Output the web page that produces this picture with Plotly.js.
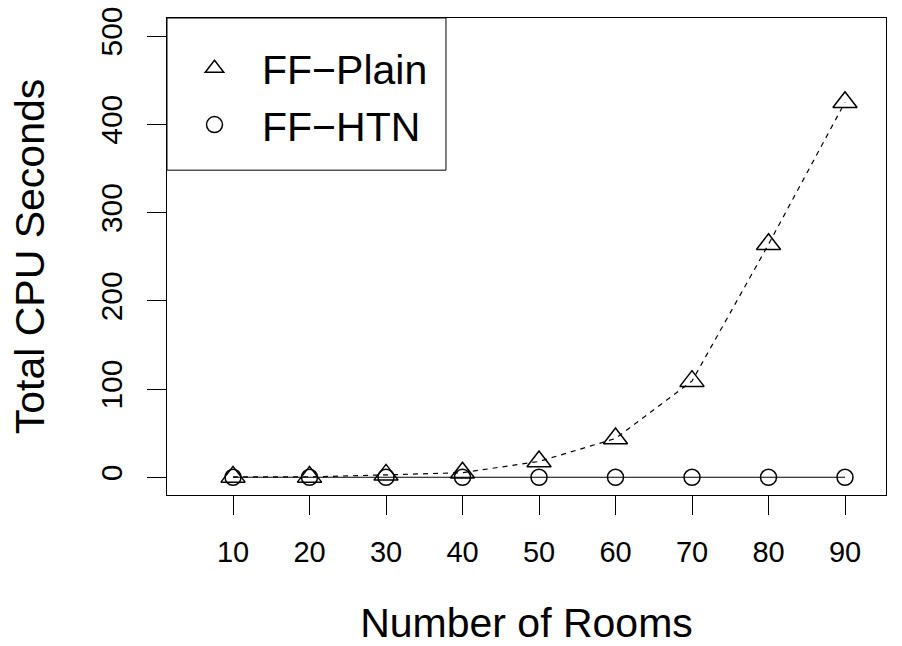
<!DOCTYPE html>
<html>
<head>
<meta charset="utf-8">
<script src="https://cdn.plot.ly/plotly-3.0.1.min.js"></script>
<style>html,body{margin:0;padding:0;background:#fff;}#chart{width:902px;height:646px;}</style>
</head>
<body>
<div id="chart"></div>
<script>
var rooms = [10, 20, 30, 40, 50, 60, 70, 80, 90];
var ffPlain = [0.5, 0.5, 2.8, 5.3, 18, 44, 109, 264, 425];
var ffHTN = [0.1, 0.1, 0.1, 0.1, 0.1, 0.1, 0.1, 0.1, 0.1];
var seriesNames = ["FF\u2212Plain", "FF\u2212HTN"];
var xTicks = [10, 20, 30, 40, 50, 60, 70, 80, 90];
var yTicks = [0, 100, 200, 300, 400, 500];
var xTitle = "Number of Rooms";
var yTitle = "Total CPU Seconds";

var FONT = "Liberation Sans, Arial, Helvetica, sans-serif";

var traces = [
  {x: rooms, y: ffPlain, mode: "lines", line: {color: "#000", width: 1.2, dash: "5px,5px"}, showlegend: false, hoverinfo: "skip"},
  {x: rooms, y: ffHTN, mode: "lines", line: {color: "#000", width: 1.2}, showlegend: false, hoverinfo: "skip"},
  {x: rooms, y: ffPlain, mode: "markers", name: seriesNames[0],
   marker: {symbol: "triangle-up-open", size: 21, color: "#000", line: {width: 1.5, color: "#000"}}},
  {x: rooms, y: ffHTN, mode: "markers", name: seriesNames[1],
   marker: {symbol: "circle-open", size: 16, color: "#000", line: {width: 1.5, color: "#000"}}}
];

var layout = {
  width: 902, height: 646,
  margin: {l: 167, r: 16, t: 18, b: 151},
  paper_bgcolor: "#fff", plot_bgcolor: "#fff",
  font: {family: FONT, color: "#000"},
  showlegend: true,
  legend: {x: 0.0, y: 0.964, xanchor: "left", yanchor: "top", bgcolor: "rgba(0,0,0,0)", borderwidth: 0,
           font: {size: 41, family: FONT, color: "#000"}, itemwidth: 85, tracegroupgap: 0},
  xaxis: {range: [1.37, 95.36], tickvals: xTicks, ticktext: xTicks.map(String), ticks: "outside", ticklen: 19, tickwidth: 1, tickcolor: "#000",
          showline: true, linecolor: "#000", linewidth: 1, mirror: true, showgrid: false, zeroline: false,
          tickfont: {size: 29, family: FONT}, ticklabelstandoff: 12,
          title: {text: xTitle, font: {size: 41, family: FONT}, standoff: 52}},
  yaxis: {range: [-20, 520.4], tickvals: yTicks, ticktext: yTicks.map(String), ticks: "outside", ticklen: 19, tickwidth: 1, tickcolor: "#000",
          showline: true, linecolor: "#000", linewidth: 1, mirror: true, showgrid: false, zeroline: false,
          tickfont: {size: 30, family: FONT}, tickangle: -90, ticklabelstandoff: 13,
          title: {text: yTitle, font: {size: 41, family: FONT}, standoff: 37}},
  shapes: [
    {type: "rect", xref: "paper", yref: "paper", x0: 0, x1: 0.388, y0: 0.681, y1: 1, line: {color: "#000", width: 1}}
  ]
};

Plotly.newPlot("chart", traces, layout, {displayModeBar: false, staticPlot: true});
</script>
</body>
</html>
